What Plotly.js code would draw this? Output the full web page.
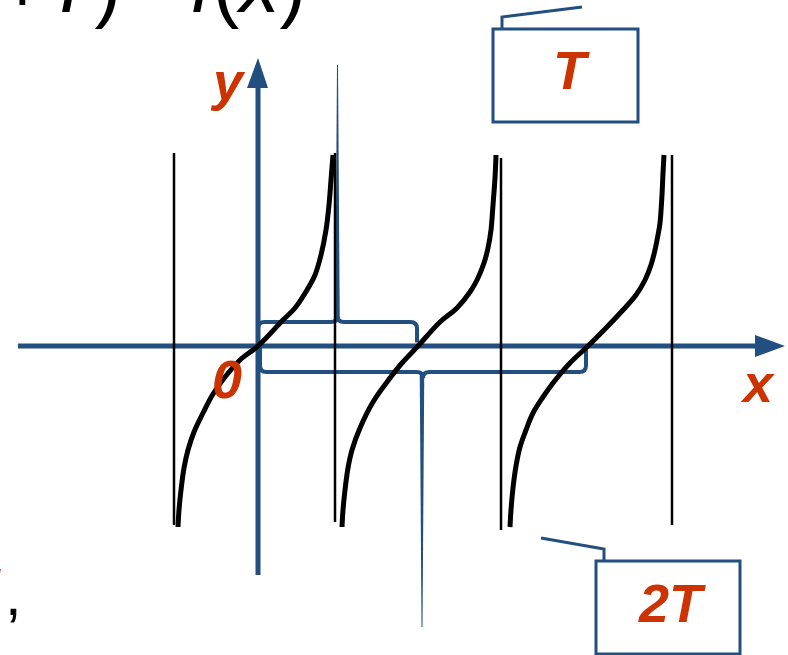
<!DOCTYPE html>
<html><head><meta charset="utf-8">
<script src="https://cdn.plot.ly/plotly-3.0.1.min.js"></script>
<style>html,body{margin:0;padding:0;background:#fff}#chart{width:788px;height:655px}</style>
</head><body><div id="chart"></div>
<script>
// ---- data (axis units: origin at the intersection of the axes) ----
const asymX = [-1.68, 1.54, 4.86, 8.28];
const asymTop = [3.86, 3.86, 3.76, 3.82];
const asymBottom = [-3.58, -3.52, -3.68, -3.58];

const branch1X = [-1.60,-1.58,-1.54,-1.48,-1.40,-1.28,-1.10,-0.90,-0.66,-0.36,0,0.50,0.74,0.98,1.14,1.26,1.36,1.42,1.46,1.50];
const branch1Y = [-3.62,-3.28,-2.88,-2.44,-2.08,-1.72,-1.34,-0.96,-0.62,-0.28,0,0.52,0.76,1.12,1.42,1.82,2.32,2.82,3.32,3.82];

const branch2X = [1.68,1.70,1.74,1.80,1.88,2.04,2.30,2.58,2.88,3.20,3.64,3.98,4.24,4.38,4.52,4.60,4.66,4.70,4.74,4.76];
const branch2Y = [-3.62,-3.28,-2.88,-2.44,-2.08,-1.64,-1.12,-0.72,-0.34,0,0.48,0.76,1.08,1.32,1.66,1.96,2.32,2.82,3.36,3.82];

const branch3X = [5.04,5.06,5.10,5.16,5.24,5.36,5.50,5.70,5.90,6.24,6.60,6.94,7.30,7.56,7.74,7.86,7.94,8.00,8.04,8.08,8.10,8.12];
const branch3Y = [-3.62,-3.28,-2.84,-2.40,-2.02,-1.68,-1.34,-1.02,-0.74,-0.34,0,0.34,0.72,1.02,1.32,1.62,1.92,2.22,2.46,3.02,3.46,3.82];

const zeros = [0, 3.18, 6.56];          // where the curve meets the x axis
const periodLabels = ['T', '2T'];
const axisLabels = ['x', 'y', '0'];
const formulaText = '<i>f</i>(<i>x</i>+<i>T</i>)\u200A=\u2009<i>f</i>(<i>x</i>)';

// ---- styles ----
const BLUE = '#234e80';
const RED = '#cc3300';
const FONT = 'Liberation Sans, Arial, sans-serif';

const asymXs = [], asymYs = [];
asymX.forEach((a, i) => { asymXs.push(a, a, null); asymYs.push(asymBottom[i], asymTop[i], null); });

const curveLine = {color: '#000', width: 5, shape: 'spline', smoothing: 1};
const traces = [
  {x: asymXs, y: asymYs, mode: 'lines', line: {color: '#000', width: 2.5}, hoverinfo: 'skip'},
  {x: branch1X, y: branch1Y, mode: 'lines', line: curveLine},
  {x: branch2X, y: branch2Y, mode: 'lines', line: curveLine},
  {x: branch3X, y: branch3Y, mode: 'lines', line: curveLine}
];

function f(n) { return (+n).toFixed(3); }
function bracePath(xa, xb, yl, dir) {
  const r = 0.13, m = (xa + xb) / 2, tip = yl + dir * 0.12;
  return `M ${f(xa)} ${f(dir*0.03)} L ${f(xa)} ${f(yl - dir*r)} Q ${f(xa)} ${f(yl)} ${f(xa + r)} ${f(yl)} ` +
         `L ${f(m - r)} ${f(yl)} Q ${f(m)} ${f(yl)} ${f(m)} ${f(tip)} Q ${f(m)} ${f(yl)} ${f(m + r)} ${f(yl)} ` +
         `L ${f(xb - r)} ${f(yl)} Q ${f(xb)} ${f(yl)} ${f(xb)} ${f(yl - dir*r)} L ${f(xb)} ${f(dir*0.07)}`;
}
function spikePath(xa, xb, yl, dir, end) {
  const m = (xa + xb) / 2, s = yl + dir * 0.06;
  return `M ${f(m-0.045)} ${f(s)} L ${f(m+0.045)} ${f(s)} L ${f(m+0.01)} ${f(end)} L ${f(m-0.01)} ${f(end)} Z`;
}

const shapes = [
  // axes
  {type: 'line', x0: -4.8, y0: 0, x1: 10.0, y1: 0, line: {color: BLUE, width: 5}, layer: 'below'},
  {type: 'path', path: 'M 9.94 0.22 L 10.54 0 L 9.94 -0.22 Z', fillcolor: BLUE, line: {width: 0}, layer: 'below'},
  {type: 'line', x0: 0, y0: -4.58, x1: 0, y1: 5.25, line: {color: BLUE, width: 5}, layer: 'below'},
  {type: 'path', path: 'M -0.22 5.16 L 0 5.76 L 0.2 5.16 Z', fillcolor: BLUE, line: {width: 0}, layer: 'below'},
  // braces
  {type: 'path', path: bracePath(zeros[0], zeros[1], 0.48, 1), line: {color: BLUE, width: 4}, layer: 'below'},
  {type: 'path', path: spikePath(zeros[0], zeros[1], 0.48, 1, 5.62), fillcolor: BLUE, line: {width: 0}, layer: 'below'},
  {type: 'path', path: bracePath(zeros[0] + 0.04, zeros[2], -0.52, -1), line: {color: BLUE, width: 4}, layer: 'below'},
  {type: 'path', path: spikePath(zeros[0], zeros[2], -0.52, -1, -5.62), fillcolor: BLUE, line: {width: 0}, layer: 'below'},
  // callout boxes
  {type: 'rect', x0: 4.70, y0: 4.48, x1: 7.60, y1: 6.34, line: {color: BLUE, width: 3}, fillcolor: 'rgba(0,0,0,0)'},
  {type: 'path', path: 'M 4.88 6.34 L 4.88 6.58 L 6.48 6.78', line: {color: BLUE, width: 3}},
  {type: 'rect', x0: 6.76, y0: -6.16, x1: 9.64, y1: -4.30, line: {color: BLUE, width: 3}, fillcolor: 'rgba(0,0,0,0)'},
  {type: 'path', path: 'M 6.92 -4.30 L 6.92 -4.06 L 5.66 -3.84', line: {color: BLUE, width: 3}}
];

const redFont = {family: FONT, size: 54, color: RED};
const annotations = [
  {x: 6.26, y: 5.52, text: '<b><i>' + periodLabels[0] + '</i></b>', showarrow: false, font: redFont, xanchor: 'center', yanchor: 'middle'},
  {x: 8.28, y: -5.14, text: '<b><i>' + periodLabels[1] + '</i></b>', showarrow: false, font: redFont, xanchor: 'center', yanchor: 'middle'},
  {x: 9.98, y: -0.74, text: '<b><i>' + axisLabels[0] + '</i></b>', showarrow: false, font: redFont, xanchor: 'center', yanchor: 'middle'},
  {x: -0.60, y: 5.30, text: '<b><i>' + axisLabels[1] + '</i></b>', showarrow: false, font: redFont, xanchor: 'center', yanchor: 'middle'},
  {x: -0.62, y: -0.66, text: '<b><i>' + axisLabels[2] + '</i></b>', showarrow: false, font: redFont, xanchor: 'center', yanchor: 'middle'},
  // cropped formula at the top edge
  {xref: 'paper', yref: 'paper', x: 308/788, y: 1 + 16/655, text: formulaText, showarrow: false,
   font: {family: FONT, size: 80, color: '#000'}, xanchor: 'right', yanchor: 'middle'},
  // cropped "T," at the bottom-left edge
  {xref: 'paper', yref: 'paper', x: 0, xshift: 3, y: 1 - 589/655, text: '<b><i>T</i></b>', showarrow: false,
   font: {family: FONT, size: 60, color: RED}, xanchor: 'right', yanchor: 'middle'},
  {xref: 'paper', yref: 'paper', x: 3/788, y: 1 - 594/655, text: ',', showarrow: false,
   font: {family: FONT, size: 60, color: '#000'}, xanchor: 'left', yanchor: 'middle'}
];

const layout = {
  width: 788, height: 655,
  margin: {l: 0, r: 0, t: 0, b: 0, pad: 0},
  paper_bgcolor: '#fff', plot_bgcolor: 'rgba(0,0,0,0)',
  showlegend: false,
  xaxis: {range: [-5.16, 10.60], visible: false, fixedrange: true},
  yaxis: {range: [-6.18, 6.92], visible: false, fixedrange: true},
  shapes: shapes,
  annotations: annotations
};

Plotly.newPlot('chart', traces, layout, {staticPlot: true, displayModeBar: false});
</script>
</body></html>
